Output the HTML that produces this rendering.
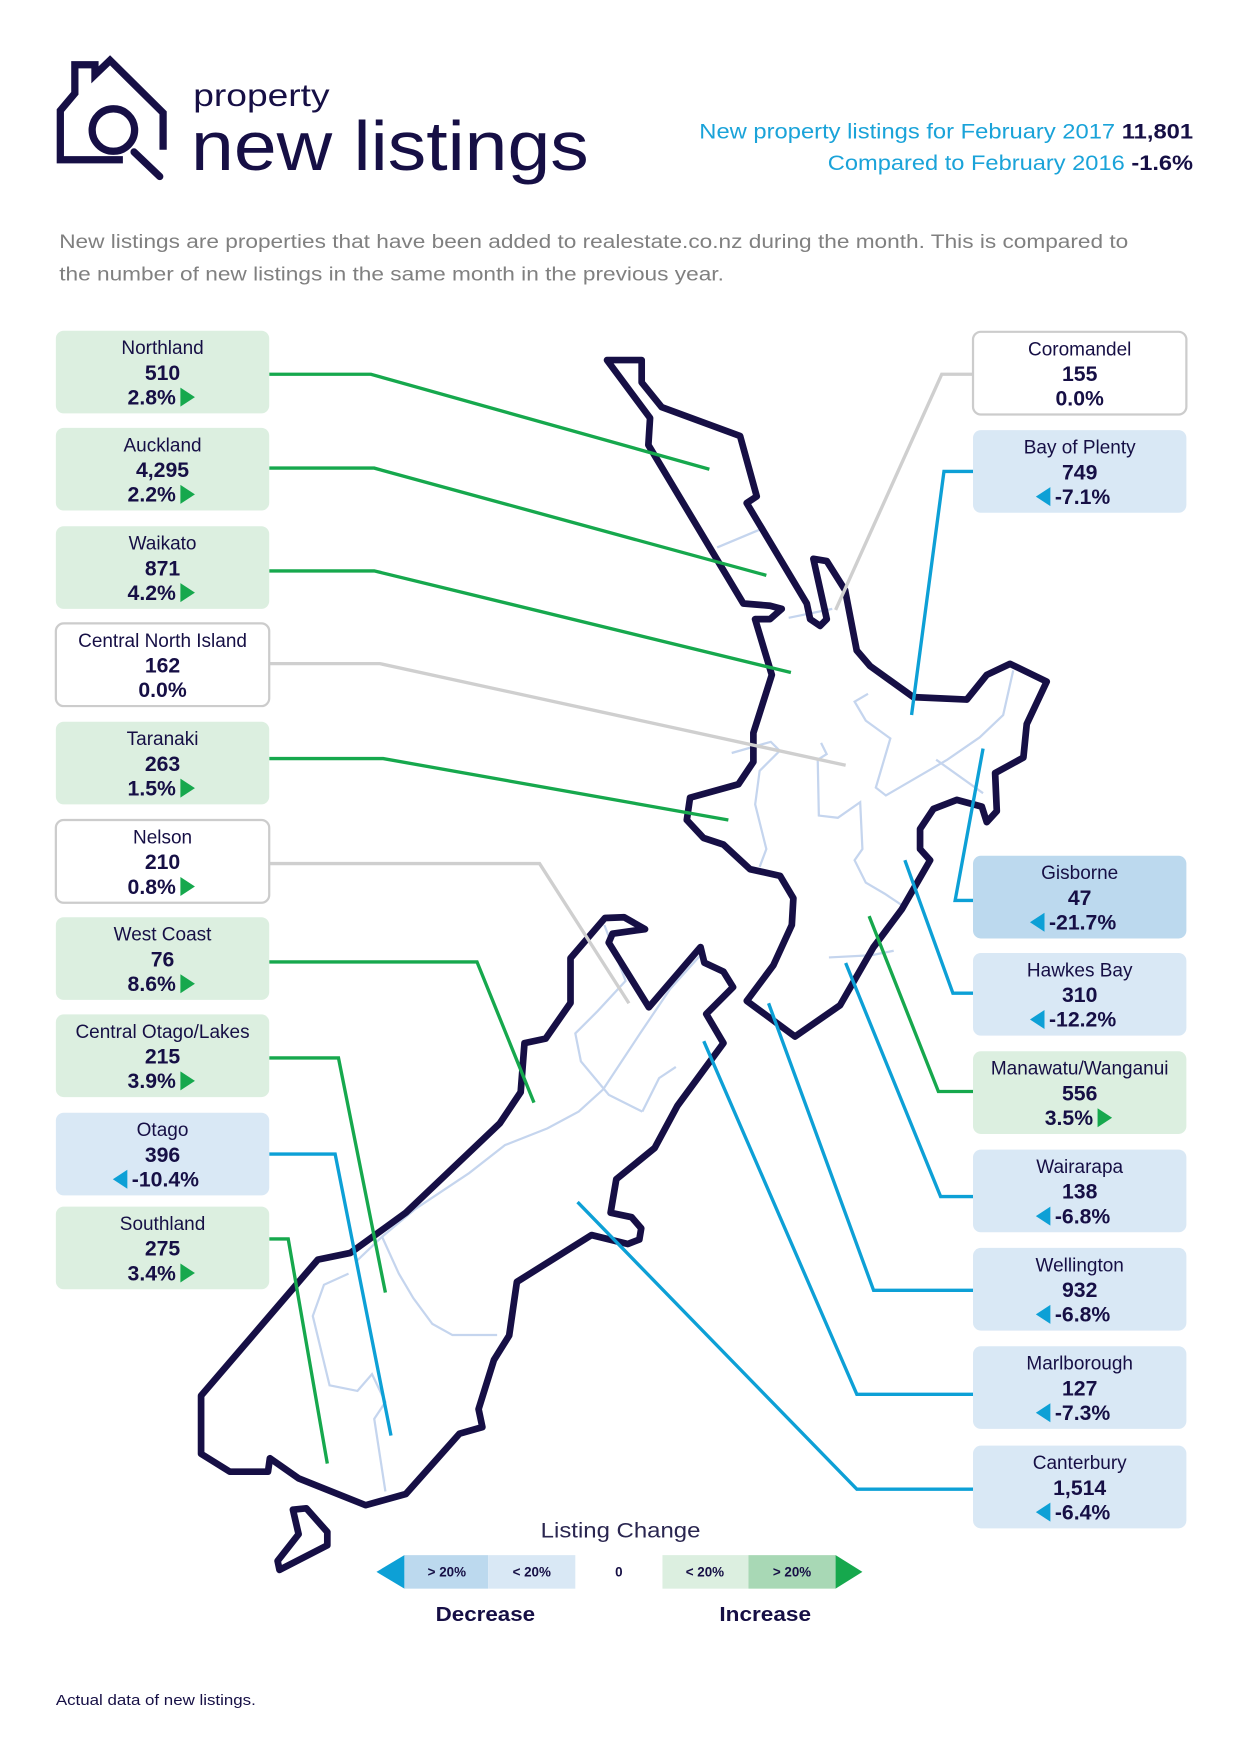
<!DOCTYPE html>
<html><head><meta charset="utf-8"><style>
html,body{margin:0;padding:0;background:#fff;}
svg{display:block;font-family:"Liberation Sans",sans-serif;}
</style></head><body>
<svg id="chart" width="1240" height="1754" viewBox="0 0 1110 1570" preserveAspectRatio="none" xmlns="http://www.w3.org/2000/svg">
<g fill="none" stroke="#160f45" stroke-width="6.5">
<path d="M110,143 L54,143 L54,99 L67,83.5 L67,58 L85,58 L85,67 L98.5,54 L146,101 L146,134"/>
<circle cx="101.5" cy="116.4" r="19"/>
<line x1="120" y1="136" x2="143" y2="158" stroke-linecap="round"/>
</g>
<text x="173" y="95" font-size="28" fill="#160f45" textLength="122" lengthAdjust="spacingAndGlyphs">property</text>
<text x="171" y="152" font-size="62" fill="#160f45" textLength="356" lengthAdjust="spacingAndGlyphs">new listings</text>
<text x="626" y="124" font-size="19" fill="#1aa3d9" textLength="442" lengthAdjust="spacingAndGlyphs">New property listings for February 2017 <tspan font-weight="bold" fill="#160f45">11,801</tspan></text>
<text x="741" y="152" font-size="19" fill="#1aa3d9" textLength="327" lengthAdjust="spacingAndGlyphs">Compared to February 2016 <tspan font-weight="bold" fill="#160f45">-1.6%</tspan></text>
<text x="53" y="222" font-size="17" fill="#808080" textLength="957" lengthAdjust="spacingAndGlyphs">New listings are properties that have been added to realestate.co.nz during the month. This is compared to</text>
<text x="53" y="251" font-size="17" fill="#808080" textLength="595" lengthAdjust="spacingAndGlyphs">the number of new listings in the same month in the previous year.</text>

<g id="map">
<g fill="none" stroke="#c5d5ee" stroke-width="2">
<polyline points="642,490 685,472"/>
<polyline points="706,553 745,545"/>
<polyline points="777,621 765,628 775,645 797,661 784,705 793,712 848,680 877,660 898,640 907,600"/>
<polyline points="838,680 880,710"/>
<polyline points="655,674 690,664 698,672 680,690 676,720 686,760 680,776"/>
<polyline points="735,665 740,675 732,680 733,730 750,732 770,718 772,760 765,770 775,790 792,800 810,812"/>
<polyline points="742,857 780,855 800,851"/>
<polyline points="541,828 560,878 535,905 515,925 520,950 545,980 575,995"/>
<polyline points="627,855 600,885 573,925 540,975 518,995 490,1010 452,1025 420,1050 372,1082 342,1107 320,1128"/>
<polyline points="575,995 590,965 605,955"/>
<polyline points="342,1107 357,1140 370,1162 387,1185 405,1195 445,1195"/>
<polyline points="312,1140 290,1150 280,1178 295,1240 320,1245 333,1230 345,1255 335,1270 345,1335"/>
</g>
<g fill="none" stroke="#160f45" stroke-width="6" stroke-linejoin="round">
<polygon points="543.4,322.3 574.4,322.3 574.4,342.3 592.3,364.4 662.5,390.3 677.4,444.3 668.4,450.3 722.2,540.2 725.2,554.2 734.1,560.2 740.1,554.2 728.1,500.2 740.1,502.2 756.5,528.2 766.9,582.2 778.9,596.2 817.6,624 865.4,626.2 883.3,604.1 904.2,594.2 937,610.1 919.1,648.1 916.1,678.1 890.8,692 892.3,726 883.3,735.9 878.9,722 856.5,716 835.6,724 823.6,742 823.6,760 832.6,770 807.2,814 781.8,848 752,899.8 711.7,927.8 668.5,895.9 692.3,864 708.8,828 710.2,804 698.3,784 671.4,778 647.6,756 629.7,750 614.8,734 617.7,714 661,702 674.4,682 674.4,656 690.9,604.1 675.9,554.2 689.3,554.2 699.8,545 689.3,542.2 665.4,540.2 580.4,398.3 581.9,374.2"/>
<polygon points="541.5,821.7 558.6,821 577.4,831.7 548.3,835.7 544.9,843.7 580.8,901.6 627.1,847.7 630.5,861.7 647.6,869.7 656.2,883.6 632.2,907.6 647.6,933.7 606.5,989.6 586,1027.6 551.7,1055.5 546.6,1085.5 565.4,1089.5 574,1099.5 572.3,1109.5 562,1113.5 529.5,1105.5 462.7,1147.4 455.8,1195.4 442.1,1217.4 428.4,1261.3 431.8,1277.4 411.3,1283.3 363.3,1337.3 327.3,1347.3 267.3,1323.3 241.6,1305.3 239.9,1317.3 205.7,1317.3 180,1301.3 180,1249.3 284.5,1127.5 313.6,1121.5 363.3,1085.5 447.3,1005.6 466.1,977.6 469.5,933.7 488.4,929.7 510.7,897.7 510.7,857.7"/>
<polygon points="262.2,1351.3 274.2,1350.1 293,1371.3 293,1383.2 250.2,1405.2 248.5,1397.2 267.3,1373.2"/>
</g>
</g>
<g id="leaders"></g>
<g id="boxes"></g>

<g>
<text x="484" y="1376" font-size="19" fill="#2a2650" textLength="143" lengthAdjust="spacingAndGlyphs">Listing Change</text>
<polygon points="362,1392 362,1422 337,1407" fill="#0da0d6"/>
<rect x="362" y="1392" width="75" height="30" fill="#bcd9ee"/>
<rect x="437" y="1392" width="78" height="30" fill="#d9e8f5"/>
<rect x="593" y="1392" width="77" height="30" fill="#dcefe0"/>
<rect x="670" y="1392" width="78" height="30" fill="#a8d8b5"/>
<polygon points="748,1392 748,1422 772,1407" fill="#16a84d"/>
<g font-size="12" font-weight="bold" fill="#160f45" text-anchor="middle">
<text x="400" y="1411">&gt; 20%</text><text x="476" y="1411">&lt; 20%</text>
<text x="554" y="1411">0</text>
<text x="631" y="1411">&lt; 20%</text><text x="709" y="1411">&gt; 20%</text>
</g>
<text x="390" y="1451" font-size="18" font-weight="bold" fill="#160f45" textLength="89" lengthAdjust="spacingAndGlyphs">Decrease</text>
<text x="644" y="1451" font-size="18" font-weight="bold" fill="#160f45" textLength="82" lengthAdjust="spacingAndGlyphs">Increase</text>
</g>
<text x="50" y="1526" font-size="13" fill="#160f45" textLength="179" lengthAdjust="spacingAndGlyphs">Actual data of new listings.</text>
</svg>
<script>
const regionNames = ["Northland","Auckland","Waikato","Central North Island","Taranaki","Nelson","West Coast","Central Otago/Lakes","Otago","Southland","Coromandel","Bay of Plenty","Gisborne","Hawkes Bay","Manawatu/Wanganui","Wairarapa","Wellington","Marlborough","Canterbury"];
const listingValues = [510,4295,871,162,263,210,76,215,396,275,155,749,47,310,556,138,932,127,1514];
const changePct = [2.8,2.2,4.2,0.0,1.5,0.8,8.6,3.9,-10.4,3.4,0.0,-7.1,-21.7,-12.2,3.5,-6.8,-6.8,-7.3,-6.4];
// layout (not data)
const boxTops = [296,383,471,558,646,734,821,908,996,1080,297,385,766,853,941,1029,1117,1205,1294];
const boxSide = ["L","L","L","L","L","L","L","L","L","L","R","R","R","R","R","R","R","R","R"];
const leaderPaths = [
 [[241,335],[332,335],[635,420]],[[241,419],[335,419],[686,515]],[[241,511],[335,511],[708,602]],
 [[241,594],[340,594],[757,685]],[[241,679],[343,679],[652,734]],[[241,773],[483,773],[563,898]],
 [[241,861],[427,861],[478,987]],[[241,947],[303,947],[345,1157]],[[241,1033],[300,1033],[350,1285]],
 [[241,1109],[258,1109],[293,1310]],[[871,335],[843,335],[748,546]],[[871,422],[845,422],[816,640]],
 [[871,806],[855,806],[880,670]],[[871,889],[853,889],[810,770]],[[871,977],[840,977],[778,820]],
 [[871,1071],[842,1071],[757,862]],[[871,1155],[782,1155],[688,898]],[[871,1248],[767,1248],[630,932]],
 [[871,1333],[767,1333],[517,1076]]];
const NS="http://www.w3.org/2000/svg";
function fmt(v){return v.toLocaleString("en-US");}
function fillFor(p){ if(Math.abs(p)<1) return "#ffffff"; if(p>0) return "#dcefe0"; return p<=-20?"#bcd9ee":"#d9e8f5"; }
function lineFor(p){ if(Math.abs(p)<1) return "#cfcfcf"; return p>0?"#16a84d":"#0da0d6"; }
const leaders=document.getElementById("leaders"), boxes=document.getElementById("boxes");
regionNames.forEach((name,i)=>{
 const p=changePct[i];
 const pl=document.createElementNS(NS,"polyline");
 
 
 pl.setAttribute("points",leaderPaths[i].map(q=>q.join(",")).join(" "));
 pl.setAttribute("fill","none"); pl.setAttribute("stroke",lineFor(p)); pl.setAttribute("stroke-width","3");
 leaders.appendChild(pl);
 const x = boxSide[i]==="L"?50:871, y=boxTops[i], w=191, h=74, cx=x+w/2;
 const g=document.createElementNS(NS,"g");
 
 
 const r=document.createElementNS(NS,"rect");
 r.setAttribute("x",x);r.setAttribute("y",y);r.setAttribute("width",w);r.setAttribute("height",h);r.setAttribute("rx",7);
 r.setAttribute("fill",fillFor(p));
 if(Math.abs(p)<1){r.setAttribute("stroke","#cccccc");r.setAttribute("stroke-width","2");}
 g.appendChild(r);
 const t1=document.createElementNS(NS,"text");
 
 
 t1.setAttribute("x",cx);t1.setAttribute("y",y+21);t1.setAttribute("font-size","17");t1.setAttribute("text-anchor","middle");t1.setAttribute("fill","#160f45");
 t1.textContent=name; g.appendChild(t1);
 const t2=document.createElementNS(NS,"text");
 
 
 t2.setAttribute("x",cx);t2.setAttribute("y",y+44);t2.setAttribute("font-size","19");t2.setAttribute("font-weight","bold");t2.setAttribute("text-anchor","middle");t2.setAttribute("fill","#160f45");
 t2.textContent=fmt(listingValues[i]); g.appendChild(t2);
 const pctTxt=p.toFixed(1)+"%";
 const tw=pctTxt.length*10.5;
 const t3=document.createElementNS(NS,"text");
 
 
 t3.setAttribute("font-size","19");t3.setAttribute("font-weight","bold");t3.setAttribute("fill","#160f45");t3.setAttribute("y",y+66);
 t3.textContent=pctTxt;
 if(p>0){
  t3.setAttribute("text-anchor","end");t3.setAttribute("x",cx+12);
  const a=document.createElementNS(NS,"polygon");
  
  
  const ax=cx+16;a.setAttribute("points",`${ax},${y+51} ${ax},${y+68} ${ax+13},${y+59.5}`);a.setAttribute("fill","#16a84d");g.appendChild(a);
 } else if(p<0){
  t3.setAttribute("text-anchor","start");t3.setAttribute("x",cx-tw/2+4);
  const a=document.createElementNS(NS,"polygon");
  
  
  const ax=cx-tw/2;a.setAttribute("points",`${ax},${y+51} ${ax},${y+68} ${ax-13},${y+59.5}`);a.setAttribute("fill","#0da0d6");g.appendChild(a);
 } else { t3.setAttribute("text-anchor","middle");t3.setAttribute("x",cx); }
 g.appendChild(t3);
 boxes.appendChild(g);
});
</script>
</body></html>
